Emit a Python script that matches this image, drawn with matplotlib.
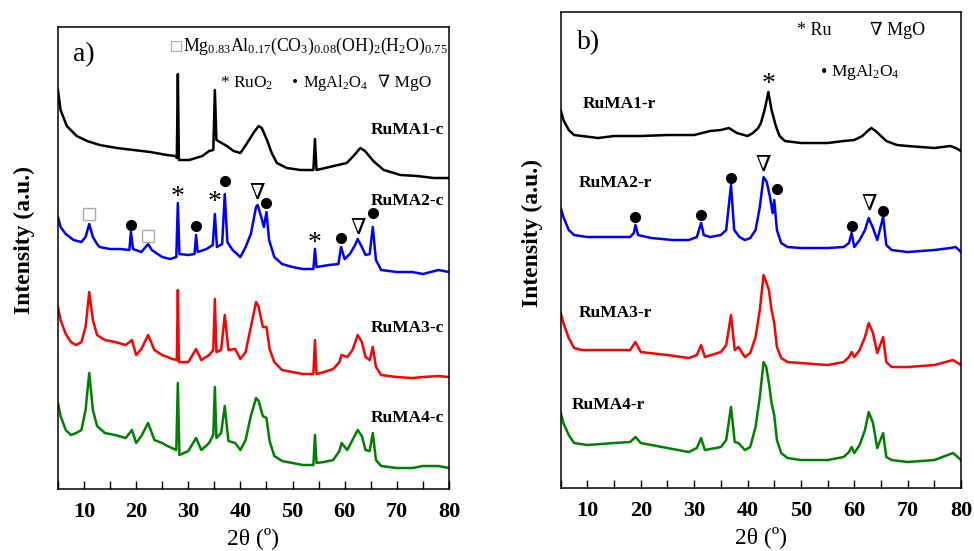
import matplotlib
matplotlib.use("Agg")
import matplotlib.pyplot as plt
from matplotlib.ticker import MultipleLocator, FuncFormatter

plt.rcParams['font.family'] = ['Liberation Serif', 'DejaVu Serif']
plt.rcParams['mathtext.fontset'] = 'custom'
plt.rcParams['mathtext.rm'] = 'Liberation Serif'
plt.rcParams['mathtext.it'] = 'Liberation Serif:italic'
plt.rcParams['mathtext.bf'] = 'Liberation Serif:bold'

# ---- panel a: calcined samples (2theta, intensity a.u.) ----
a1_x = [5, 5.5, 6.7, 8.6, 10.6, 13, 16.3, 19.5, 22.7, 25.9, 27.5, 27.8, 28, 28.2, 30.2, 32.7, 34, 34.8,
        35.1, 35.4, 37.4, 38.7, 40, 41.3, 42.5, 43.5, 44.1, 45.1, 46, 47, 48.9, 51.5, 54.0, 54.3, 54.6,
        57.9, 60.4, 61.7, 63, 63.9, 65.5, 67.5, 70.7, 73.9, 77.1, 80]
a1_y = [88, 68, 52, 42, 37, 33, 30, 28, 26, 23, 22, 20, 104, 18, 18, 22, 27, 28,
        88, 38, 32, 27, 25, 35, 45, 52, 50, 38, 25, 15, 10, 8, 8, 39, 8,
        12, 15, 22, 30, 27, 17, 8, 3, 2, 0, 0]

a2_x = [5, 5.5, 6.5, 8, 9.5, 10.3, 11, 11.7, 12.5, 13, 15, 17, 18.7, 19, 19.4, 21, 22.3, 23, 25, 26.5,
        27.7, 28, 28.3, 30, 31.2, 31.5, 31.8, 33.5, 34.7, 35.1, 35.5, 36.5, 37, 37.5, 38.5, 40, 41, 42,
        43, 43.3, 44, 44.5, 45, 45.5, 46.5, 48, 50, 52, 54, 54.3, 54.6, 57, 58.8, 59.3, 60, 61, 62,
        62.5, 63.3, 64, 64.8, 65.4, 66, 67, 70, 73, 75, 78, 80]
a2_y = [55, 45, 38, 32, 30, 35, 48, 35, 28, 25, 23, 23, 22, 40, 23, 20, 28, 22, 15, 13,
        15, 69, 18, 17, 18, 37, 20, 23, 27, 58, 25, 28, 78, 30, 22, 15, 25, 38,
        65, 67, 55, 45, 60, 32, 15, 8, 5, 3, 3, 23, 5, 7, 8, 25, 13, 18, 27,
        33, 25, 17, 18, 45, 12, 2, 0, 0, -2, 2, 0]

a3_x = [5, 5.5, 6.5, 7.5, 8.5, 9.5, 10.3, 11, 11.7, 12.5, 14, 16, 18, 19.2, 20, 21, 22.3, 23.5, 25, 27,
        27.8, 28, 28.2, 30, 31.5, 32.5, 34, 34.8, 35.1, 35.4, 36.3, 37, 37.7, 39, 40, 41, 42, 43, 43.5,
        44.3, 45, 45.6, 46.5, 48, 50, 52, 54, 54.3, 54.6, 56, 57.8, 59, 59.4, 60.5, 61.5, 62.5, 63.3,
        64, 64.8, 65.4, 66, 67, 70, 73, 75, 78, 80]
a3_y = [70, 57, 43, 35, 32, 35, 50, 85, 57, 42, 37, 35, 32, 37, 22, 28, 42, 27, 22, 18,
        17, 87, 15, 15, 28, 17, 22, 27, 78, 25, 27, 62, 27, 28, 18, 25, 50, 75, 70,
        50, 50, 28, 15, 7, 5, 3, 3, 37, 3, 5, 8, 15, 22, 20, 27, 42, 35,
        20, 17, 30, 10, 2, 0, -1, 0, 1, 0]

a4_x = [5, 5.5, 6.5, 7.5, 8.5, 9.5, 10.3, 11, 11.7, 12.5, 14, 16, 18, 19.2, 20, 21, 22.3, 23.5, 25, 26,
        27.7, 28, 28.3, 30, 31.5, 32.5, 34, 34.8, 35.1, 35.4, 36.3, 37, 37.7, 39, 40, 41, 42, 43, 43.5,
        44.3, 45, 45.6, 46.5, 48, 50, 52, 54, 54.3, 54.6, 56, 57.8, 59, 59.4, 60.5, 61.5, 62.5, 63.3,
        64, 64.8, 65.4, 66, 67, 70, 73, 75, 78, 80]
a4_y = [65, 52, 38, 33, 35, 38, 58, 95, 58, 42, 35, 33, 30, 38, 25, 32, 45, 28, 25, 22,
        18, 85, 13, 17, 30, 18, 25, 33, 81, 30, 35, 62, 27, 25, 18, 28, 52, 70, 67,
        52, 50, 27, 12, 7, 5, 3, 3, 33, 5, 6, 8, 17, 25, 18, 28, 38, 32,
        18, 17, 35, 8, 2, 0, 0, 2, 2, 0]

# ---- panel b: reduced samples ----
b1_x = [5, 5.5, 6.5, 7.5, 9, 12, 15, 20, 25, 30, 33, 35, 36.5, 38, 40, 41, 42, 42.5, 43.2, 43.9, 44.5,
        45.3, 46, 47, 50, 55, 58, 60, 61.5, 62.5, 63.2, 64, 65, 66, 68, 70, 75, 78, 79, 80]
b1_y = [38, 28, 18, 13, 12, 10, 12, 12, 13, 13, 17, 18, 20, 15, 12, 15, 20, 25, 38, 56, 38,
        22, 12, 7, 5, 5, 7, 8, 12, 17, 20, 17, 12, 7, 3, 2, 0, 2, 0, -3]

b2_x = [5, 5.5, 6.5, 7.5, 10, 14, 18, 18.7, 19, 19.5, 22, 26, 29, 30.5, 31.3, 31.8, 33, 35, 36, 36.9,
        37.5, 38.5, 39.5, 40.5, 41.5, 42.3, 43, 43.6, 44.2, 44.7, 45, 45.5, 46.3, 47.5, 50, 55, 58, 59,
        59.5, 60, 61, 62, 62.7, 63.5, 64.3, 65.4, 66, 67, 70, 75, 78, 79, 80]
b2_y = [42, 33, 20, 15, 13, 13, 13, 17, 25, 15, 12, 10, 10, 13, 27, 15, 13, 15, 20, 65,
        20, 13, 10, 12, 20, 43, 73, 68, 53, 37, 50, 20, 7, 3, 2, 2, 3, 7,
        17, 3, 10, 20, 32, 22, 10, 33, 5, 0, -2, 0, 2, 3, -2]

b3_x = [5, 5.5, 6.5, 7.5, 9, 12, 15, 18, 19, 20, 25, 29, 30.5, 31.3, 32, 35, 36, 36.9, 37.6, 38.3,
        39.5, 40.5, 41.5, 42.3, 43, 43.5, 44, 44.5, 45, 45.5, 46.3, 47.5, 50, 55, 58, 59, 59.5, 60,
        61, 62, 62.7, 63.5, 64.3, 65.4, 66, 67, 70, 75, 78.5, 80]
b3_y = [52, 42, 27, 17, 15, 15, 15, 15, 23, 13, 10, 7, 10, 20, 8, 13, 20, 50, 15, 18,
        8, 12, 28, 55, 90, 83, 75, 55, 42, 18, 7, 3, 2, 0, 3, 8, 13, 8,
        15, 28, 42, 32, 12, 28, 3, -2, -2, 0, 5, 0]

b4_x = [5, 5.5, 6.5, 7.5, 10, 15, 18, 19, 20, 25, 29, 30.5, 31.3, 32, 35, 36, 36.9, 37.6, 38.3, 39.5,
        40.5, 41.5, 42.3, 43, 43.5, 44, 44.5, 45, 45.5, 46.3, 47.5, 50, 55, 58, 59, 59.5, 60, 61, 62,
        62.7, 63.5, 64.3, 65.4, 66, 67, 70, 75, 78.5, 80]
b4_y = [47, 37, 25, 17, 15, 17, 18, 23, 17, 12, 8, 12, 22, 10, 13, 20, 53, 18, 17, 10,
        13, 33, 63, 98, 93, 77, 57, 45, 20, 7, 2, 0, 0, 3, 8, 13, 7, 15, 30,
        48, 37, 12, 27, 3, 0, -2, 0, 7, 0]

labels_a = ['RuMA1-c', 'RuMA2-c', 'RuMA3-c', 'RuMA4-c']
labels_b = ['RuMA1-r', 'RuMA2-r', 'RuMA3-r', 'RuMA4-r']
colors = ['black', '#0000ff', '#ff0000', '#008000']
offsets_a = [311, 217, 112, 21]
offsets_b = [340, 238, 123, 28]

# phase markers (2theta, height) on the RuMA2 patterns
a_square = [(11, 275), (22.3, 253)]
a_circle = [(19, 264), (31.5, 263), (37, 308), (45, 286), (59.3, 251), (65.4, 276)]
a_star = [(28, 292), (35.1, 287), (54.3, 246)]
a_tri = [(43.3, 295), (62.5, 260)]
b_star = [(43.9, 404)]
b_circle = [(19, 271), (31.3, 273), (36.9, 310), (45.5, 299), (59.5, 262), (65.4, 277)]
b_tri = [(43, 322), (62.7, 283)]

fig = plt.figure(figsize=(9.74, 5.51), dpi=100)
ax_a = fig.add_axes([0.0595, 0.1125, 0.4014, 0.8385])
ax_b = fig.add_axes([0.5757, 0.1143, 0.411, 0.8639])

curves_a = [(a1_x, a1_y), (a2_x, a2_y), (a3_x, a3_y), (a4_x, a4_y)]
curves_b = [(b1_x, b1_y), (b2_x, b2_y), (b3_x, b3_y), (b4_x, b4_y)]

for (x, y), off, c in zip(curves_a, offsets_a, colors):
    ax_a.plot(x, [v + off for v in y], color=c, lw=1.8)
for (x, y), off, c in zip(curves_b, offsets_b, colors):
    ax_b.plot(x, [v + off for v in y], color=c, lw=1.8)

ax_a.set_ylim(0, 462)
ax_b.set_ylim(0, 476)

for ax in (ax_a, ax_b):
    ax.set_xlim(5, 80)
    ax.xaxis.set_major_locator(MultipleLocator(5))
    ax.xaxis.set_major_formatter(FuncFormatter(lambda v, p: '%d' % v if v % 10 == 0 else ''))
    ax.tick_params(axis='x', direction='in', length=6, width=1, pad=9, labelsize=16)
    for t in ax.get_xticklabels():
        t.set_fontweight('bold')
    ax.set_yticks([])
    for s in ax.spines.values():
        s.set_linewidth(1.1)
    ax.set_xlabel('2θ (º)', fontsize=17, labelpad=4)
    ax.set_ylabel('Intensity (a.u.)', fontsize=17, fontweight='bold')

ax_a.yaxis.set_label_coords(-0.059, 0.539)
ax_b.yaxis.set_label_coords(-0.045, 0.536)

# curve labels
for lab, yy in zip(labels_a, [359, 288, 161, 71]):
    ax_a.text(79.0, yy, lab, ha='right', va='center', fontsize=12.5, fontweight='bold')
for lab, xx, yy in zip(labels_b, [9.2, 8.4, 8.4, 7.1], [384, 305, 175, 83]):
    ax_b.text(xx, yy, lab, ha='left', va='center', fontsize=12.5, fontweight='bold')

# panel a legend
ax_a.text(7.9, 434, 'a)', fontsize=20, va='center')
ax_a.plot([27.7], [443], marker='s', ms=7, mfc='none', mec='#aaaaaa', mew=0.8, clip_on=False)
ax_a.text(28.9, 443, r'Mg$_{\mathrm{0.83}}$Al$_{\mathrm{0.17}}$(CO$_{\mathrm{3}}$)$_{\mathrm{0.08}}$'
          r'(OH)$_{\mathrm{2}}$(H$_{\mathrm{2}}$O)$_{\mathrm{0.75}}$', fontsize=12.8, va='center')
ax_a.text(36.1, 406, r'* RuO$_{\mathrm{2}}$', fontsize=12.5, va='center')
ax_a.text(49.9, 406, '•', fontsize=12.5, va='center')
ax_a.text(52.0, 406, r'MgAl$_{\mathrm{2}}$O$_{\mathrm{4}}$', fontsize=11.8, va='center')
ax_a.text(66.4, 406, '∇ MgO', fontsize=12.5, va='center')

# panel b legend
ax_b.text(8.1, 445, 'b)', fontsize=20, va='center')
ax_b.text(49.3, 458, '* Ru', fontsize=13, va='center')
ax_b.text(63.0, 458, '∇ MgO', fontsize=13, va='center')
ax_b.text(53.7, 416, '•', fontsize=13, va='center')
ax_b.text(55.6, 416, r'MgAl$_{\mathrm{2}}$O$_{\mathrm{4}}$', fontsize=12.5, va='center')

# phase markers
for ax, sq, ci, st, tr in [(ax_a, a_square, a_circle, a_star, a_tri),
                           (ax_b, [], b_circle, b_star, b_tri)]:
    for x, y in sq:
        ax.plot([x], [y], marker='s', ms=8, mfc='none', mec='#aaaaaa', mew=1)
    for x, y in ci:
        ax.plot([x], [y], marker='o', ms=7, color='black')
    for x, y in st:
        ax.text(x, y, '*', fontsize=20, ha='center', va='center')
    for x, y in tr:
        ax.text(x, y, '∇', fontsize=16, ha='center', va='center')

fig.savefig('out.png', dpi=100)
